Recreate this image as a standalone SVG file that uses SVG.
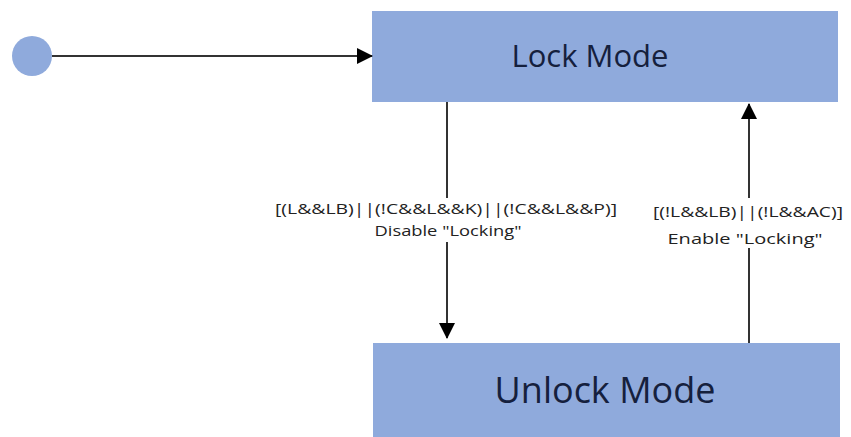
<svg xmlns="http://www.w3.org/2000/svg" width="851" height="437" viewBox="0 0 851 437">
<defs>
<style>
.state{fill:#8faadc;}
.title{font-family:"Open Sans","Liberation Sans",sans-serif;fill:#15203d;text-anchor:middle;}
.lbl{font-family:"Open Sans","Liberation Sans",sans-serif;font-size:15px;fill:#222;text-anchor:middle;}
.conn{stroke:#333;stroke-width:2;fill:none;}
</style>
<marker id="arr" markerWidth="16" markerHeight="16" refX="15" refY="8" orient="auto" markerUnits="userSpaceOnUse">
<path d="M0,0 L16,8 L0,16 Z" fill="#000"/>
</marker>
</defs>
<rect width="851" height="437" fill="#fff"/>
<g id="start"><circle cx="32" cy="56" r="20" fill="#8faadc"/></g>
<g id="lock"><rect class="state" x="372" y="11" width="466" height="91"/><text class="title" x="590" y="67" font-size="31">Lock Mode</text></g>
<g id="unlock"><rect class="state" x="373" y="343" width="467" height="94"/><text class="title" x="605" y="403" font-size="36">Unlock Mode</text></g>
<g id="connectors">
<line class="conn" x1="52" y1="56" x2="372" y2="56" marker-end="url(#arr)"/>
<line class="conn" x1="447" y1="102" x2="447" y2="338" marker-end="url(#arr)"/>
<line class="conn" x1="749" y1="343" x2="749" y2="104" marker-end="url(#arr)"/>
</g>
<g id="labels">
<rect x="270" y="198" width="352" height="44" fill="#fff"/>
<text class="lbl" x="446" y="214" textLength="342" lengthAdjust="spacingAndGlyphs">[(L&amp;&amp;LB)||(!C&amp;&amp;L&amp;&amp;K)||(!C&amp;&amp;L&amp;&amp;P)]</text>
<text class="lbl" x="448" y="236" textLength="147" lengthAdjust="spacingAndGlyphs">Disable "Locking"</text>
<rect x="648" y="198" width="200" height="50" fill="#fff"/>
<text class="lbl" x="748" y="217" textLength="190" lengthAdjust="spacingAndGlyphs">[(!L&amp;&amp;LB)||(!L&amp;&amp;AC)]</text>
<text class="lbl" x="745" y="244" textLength="155" lengthAdjust="spacingAndGlyphs">Enable "Locking"</text>
</g>
</svg>
